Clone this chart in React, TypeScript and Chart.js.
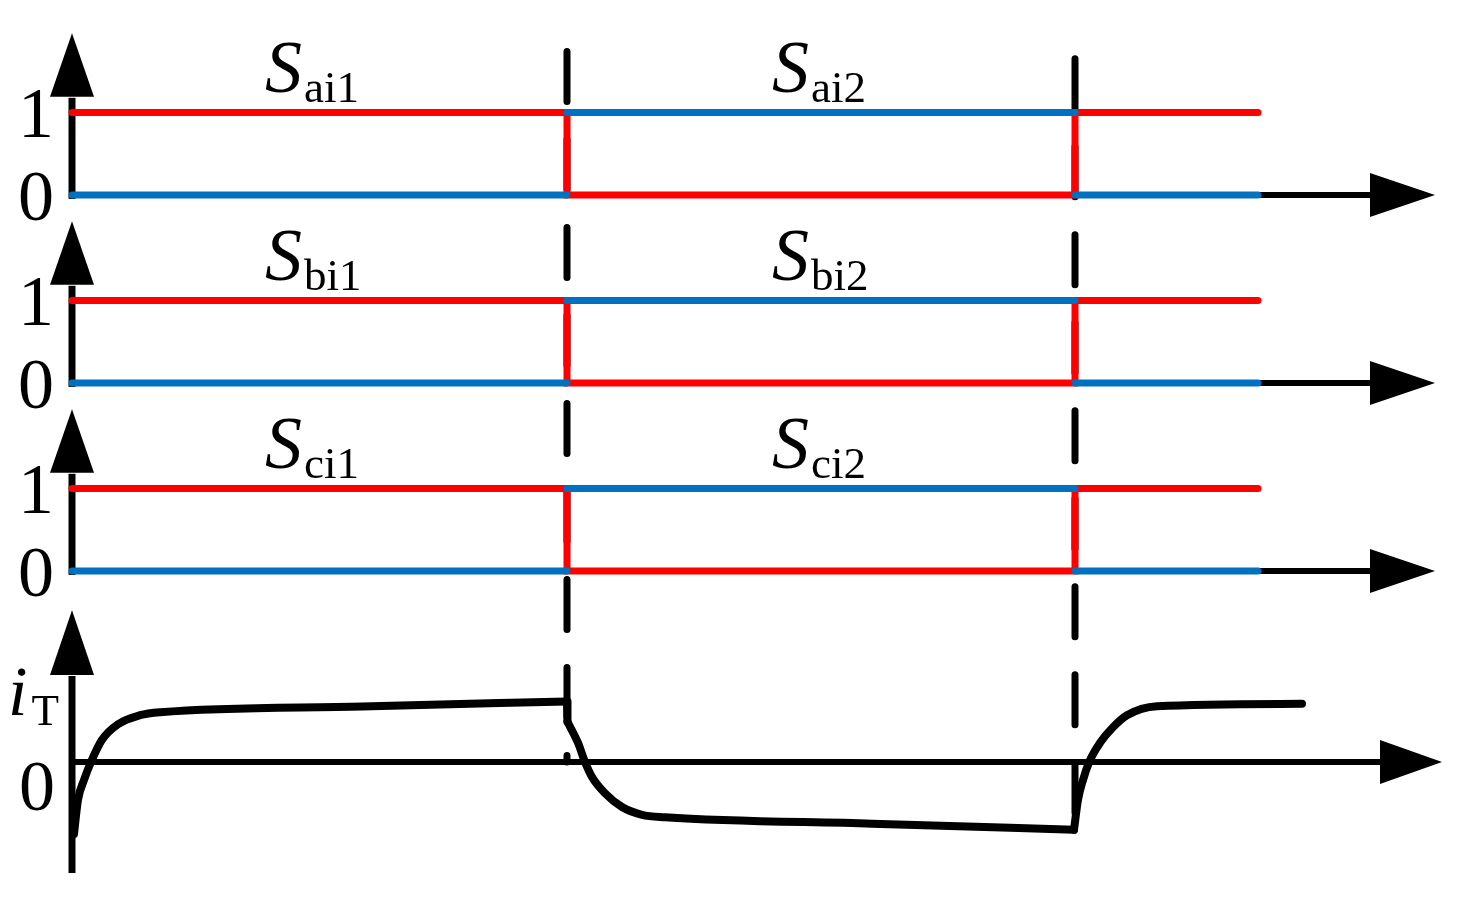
import React, { useEffect, useRef } from "react";
import { Chart, registerables } from "chart.js";

Chart.register(...registerables);

// ---- data ----
const SWITCH_TIMES = [4.95, 10.03];
const END_TIME = 11.86;
const PHASES = ["a", "b", "c"];
const RED_LEVELS = [1, 0, 1];
const BLUE_LEVELS = [0, 1, 0];
const LEVEL_TICKS = [0, 1];
const LEVEL_TICK_LABELS = ["0", "1"];
const SUB_INTERVALS = ["1", "2"];
const LABEL_T = [1.93, 7.0];
const CURRENT_T = [
  0.02, 0.06, 0.12, 0.19, 0.3, 0.46, 0.68, 0.88, 2.9, 4.95,
  4.955, 5.06, 5.13, 5.2, 5.33, 5.5, 5.7, 5.93, 8.0, 10.02,
  10.06, 10.11, 10.18, 10.28, 10.41, 10.55, 10.85, 12.3,
];
const CURRENT_I = [
  -1.2, -0.63, -0.3, 0, 0.37, 0.63, 0.78, 0.83, 0.925, 1.01,
  0.67, 0.32, 0, -0.25, -0.52, -0.75, -0.88, -0.92, -1.027, -1.13,
  -0.63, -0.3, 0.03, 0.32, 0.58, 0.78, 0.93, 0.97,
];
// indices where the current waveform is split into separate smooth pieces
const CURRENT_BREAKS = [9, 10, 19];
const CURRENT_TICKS = [0];
const CURRENT_TICK_LABELS = ["0"];
const DASH_TOP = [1.74, 1.65];
const DASH_BOTTOM = [0, -1.1];

// ---- style ----
const RED = "#FF0000";
const BLUE = "#0070C0";
const SERIF = '"Liberation Serif"';

function buildRed() {
  const b = [0, ...SWITCH_TIMES, END_TIME];
  const pts: { x: number; y: number | null }[] = [];
  RED_LEVELS.forEach((lv, k) => {
    pts.push({ x: b[k], y: lv });
    pts.push({ x: b[k + 1], y: lv });
  });
  return pts;
}
function buildBlue() {
  const b = [0, ...SWITCH_TIMES, END_TIME];
  const pts: { x: number; y: number | null }[] = [];
  BLUE_LEVELS.forEach((lv, k) => {
    if (k > 0) pts.push({ x: b[k], y: null });
    pts.push({ x: b[k], y: lv });
    pts.push({ x: b[k + 1], y: lv });
  });
  return pts;
}

const diagramPlugin = {
  id: "diagram",
  beforeDatasetsDraw(chart: any) {
    const ctx: CanvasRenderingContext2D = chart.ctx;
    const xs = chart.scales.x;
    const x0 = xs.getPixelForValue(0);
    ctx.save();
    ctx.strokeStyle = "#000";
    ctx.fillStyle = "#000";

    ctx.lineWidth = 7;
    ctx.lineCap = "round";
    ctx.setLineDash([50, 38]);
    SWITCH_TIMES.forEach((t, k) => {
      const px = xs.getPixelForValue(t);
      ctx.beginPath();
      ctx.moveTo(px, chart.scales.ya.getPixelForValue(DASH_TOP[k]));
      ctx.lineTo(px, chart.scales.yd.getPixelForValue(DASH_BOTTOM[k]));
      ctx.stroke();
    });
    ctx.setLineDash([]);
    ctx.lineCap = "butt";

    const drawAxes = (
      ys: any,
      yBottom: number,
      yBase: number,
      yTip: number,
      xBase: number,
      xTip: number
    ) => {
      const zy = ys.getPixelForValue(0);
      ctx.lineWidth = 7;
      ctx.beginPath();
      ctx.moveTo(x0, yBottom);
      ctx.lineTo(x0, ys.getPixelForValue(yBase) + 1);
      ctx.stroke();
      ctx.beginPath();
      ctx.moveTo(x0, ys.getPixelForValue(yTip));
      ctx.lineTo(x0 - 22, ys.getPixelForValue(yBase));
      ctx.lineTo(x0 + 22, ys.getPixelForValue(yBase));
      ctx.closePath();
      ctx.fill();
      ctx.lineWidth = 6;
      ctx.beginPath();
      ctx.moveTo(x0, zy);
      ctx.lineTo(xs.getPixelForValue(xBase) + 1, zy);
      ctx.stroke();
      ctx.beginPath();
      ctx.moveTo(xs.getPixelForValue(xTip), zy);
      ctx.lineTo(xs.getPixelForValue(xBase), zy - 22);
      ctx.lineTo(xs.getPixelForValue(xBase), zy + 22);
      ctx.closePath();
      ctx.fill();
    };

    PHASES.forEach((p) => {
      const ys = chart.scales["y" + p];
      drawAxes(ys, ys.getPixelForValue(0) + 4, 1.19, 1.96, 12.98, 13.63);
    });
    const yd = chart.scales.yd;
    drawAxes(yd, yd.getPixelForValue(-1.85), 1.45, 2.53, 13.08, 13.7);
    ctx.restore();
  },
  afterDatasetsDraw(chart: any) {
    const ctx: CanvasRenderingContext2D = chart.ctx;
    const xs = chart.scales.x;
    ctx.save();
    ctx.fillStyle = "#000";
    ctx.textBaseline = "alphabetic";

    PHASES.forEach((p) => {
      const ys = chart.scales["y" + p];
      ctx.font = `72px ${SERIF}`;
      ctx.textAlign = "center";
      LEVEL_TICKS.forEach((v, i) => {
        ctx.fillText(LEVEL_TICK_LABELS[i], xs.getPixelForValue(-0.36), ys.getPixelForValue(v) + 25);
      });
      ctx.textAlign = "left";
      SUB_INTERVALS.forEach((k, i) => {
        const left = xs.getPixelForValue(LABEL_T[i]);
        const base = ys.getPixelForValue(1) - 20;
        ctx.font = `italic 74px ${SERIF}`;
        ctx.fillText("S", left, base);
        const w = ctx.measureText("S").width;
        ctx.font = `45px ${SERIF}`;
        ctx.fillText(p + "i" + k, left + w + 2, base + 10);
      });
    });

    const yd = chart.scales.yd;
    ctx.font = `72px ${SERIF}`;
    ctx.textAlign = "center";
    CURRENT_TICKS.forEach((v, i) => {
      ctx.fillText(CURRENT_TICK_LABELS[i], xs.getPixelForValue(-0.35), yd.getPixelForValue(v) + 48);
    });
    ctx.textAlign = "left";
    const il = xs.getPixelForValue(-0.64);
    ctx.font = `italic 70px ${SERIF}`;
    ctx.fillText("i", il, yd.getPixelForValue(0.78));
    const iw = ctx.measureText("i").width;
    ctx.font = `45px ${SERIF}`;
    ctx.fillText("T", il + iw + 4, yd.getPixelForValue(0.62));
    ctx.restore();
  },
};

export default function App() {
  const ref = useRef<HTMLCanvasElement>(null);
  useEffect(() => {
    document.body.style.margin = "0";
    const canvas = ref.current!;
    const datasets: any[] = [];
    PHASES.forEach((p) => {
      datasets.push({
        label: "S" + p + " red",
        data: buildRed(),
        yAxisID: "y" + p,
        borderColor: RED,
        borderWidth: 7,
        borderCapStyle: "round",
        borderJoinStyle: "miter",
        pointRadius: 0,
        tension: 0,
        order: 2,
      });
      datasets.push({
        label: "S" + p + " blue",
        data: buildBlue(),
        yAxisID: "y" + p,
        borderColor: BLUE,
        borderWidth: 7,
        borderCapStyle: "round",
        pointRadius: 0,
        tension: 0,
        spanGaps: false,
        order: 1,
      });
    });
    const cuts = [0, ...CURRENT_BREAKS, CURRENT_T.length - 1];
    for (let s = 0; s < cuts.length - 1; s++) {
      const pts = [];
      for (let i = cuts[s]; i <= cuts[s + 1]; i++) pts.push({ x: CURRENT_T[i], y: CURRENT_I[i] });
      datasets.push({
        label: "iT" + s,
        data: pts,
        yAxisID: "yd",
        borderColor: "#000",
        borderWidth: 8,
        borderCapStyle: "round",
        borderJoinStyle: "round",
        pointRadius: 0,
        cubicInterpolationMode: pts.length > 2 ? "monotone" : "default",
        tension: 0,
        order: 0,
      });
    }

    const panelScale = (weight: number) => ({
      type: "linear",
      position: "left",
      stack: "panels",
      stackWeight: 188,
      weight,
      min: -0.28,
      max: 2.0,
      display: false,
    });

    const chart = new Chart(canvas, {
      type: "line",
      data: { datasets },
      options: {
        responsive: false,
        animation: false,
        devicePixelRatio: 1,
        layout: { padding: { top: 30, left: 0, right: 0, bottom: 0 } },
        plugins: { legend: { display: false }, tooltip: { enabled: false } },
        events: [],
        scales: {
          x: { type: "linear", min: -0.72, max: 13.91, display: false },
          ya: panelScale(4),
          yb: panelScale(3),
          yc: panelScale(2),
          yd: {
            type: "linear",
            position: "left",
            stack: "panels",
            stackWeight: 323,
            weight: 1,
            min: -2.583,
            max: 2.8,
            display: false,
          },
        },
      } as any,
      plugins: [diagramPlugin],
    });
    const fonts = (document as any).fonts;
    if (fonts && fonts.load) {
      Promise.all([
        fonts.load(`72px ${SERIF}`),
        fonts.load(`italic 72px ${SERIF}`),
      ])
        .then(() => chart.draw())
        .catch(() => {});
    }
    return () => chart.destroy();
  }, []);
  return (
    <div>
      <canvas
        ref={ref}
        width={1463}
        height={917}
        style={{ display: "block", width: 1463, height: 917 }}
      />
      <span style={{ position: "absolute", left: -9999, fontFamily: "Liberation Serif" }}>
        0<i>S</i>
      </span>
    </div>
  );
}
